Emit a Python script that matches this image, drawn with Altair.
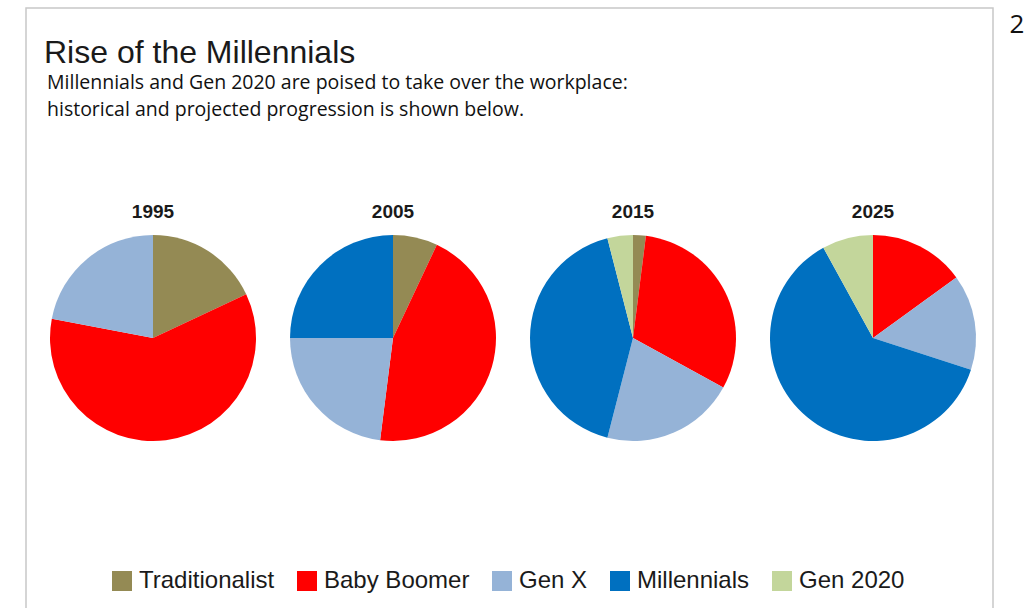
import altair as alt
import pandas as pd

# ---- data ----
years = ["1995", "2005", "2015", "2025"]
generations = ["Traditionalist", "Baby Boomer", "Gen X", "Millennials", "Gen 2020"]
colors = ["#948A54", "#FF0000", "#95B3D7", "#0070C0", "#C3D69B"]
share_1995 = [18, 60, 22, 0, 0]
share_2005 = [7, 45, 23, 25, 0]
share_2015 = [2, 31, 21, 42, 4]
share_2025 = [0, 15, 15, 62, 8]

title_text = "Rise of the Millennials"
subtitle_lines = [
    "Millennials and Gen 2020 are poised to take over the workplace:",
    "historical and projected progression is shown below.",
]
page_number = "2"

# ---- build table ----
rows = []
for yr, shares in zip(years, [share_1995, share_2005, share_2015, share_2025]):
    for i, (g, s) in enumerate(zip(generations, shares)):
        rows.append({"year": yr, "generation": g, "order": i, "share": s})
df = pd.DataFrame(rows)

x_scale = alt.Scale(type="point", domain=years, range=[153, 873], padding=0)

pies = (
    alt.Chart(df)
    .transform_window(
        end="sum(share)", groupby=["year"], sort=[alt.SortField("order")], frame=[None, 0]
    )
    .transform_calculate(start="datum.end - datum.share")
    .mark_arc(outerRadius=103)
    .encode(
        x=alt.X("year:N", scale=x_scale, axis=None),
        y=alt.value(338),
        theta=alt.Theta("start:Q", scale=alt.Scale(domain=[0, 100], range=[0, 6.283185307]), stack=False),
        theta2="end:Q",
        color=alt.Color(
            "generation:N",
            scale=alt.Scale(domain=generations, range=colors),
            legend=alt.Legend(
                title=None,
                orient="none",
                legendX=110,
                legendY=569,
                direction="horizontal",
                symbolType="square",
                symbolSize=400,
                symbolStrokeWidth=0,
                labelFont="Liberation Sans",
                labelFontSize=24,
                labelColor="#1a1a1a",
                labelOffset=5,
                columnPadding=20,
                labelLimit=400,
            ),
        ),
    )
)

year_labels = (
    alt.Chart(pd.DataFrame({"year": years}))
    .mark_text(font="Liberation Sans", fontSize=19, fontWeight="bold", color="#1a1a1a", baseline="alphabetic")
    .encode(x=alt.X("year:N", scale=x_scale, axis=None), y=alt.value(218), text="year:N")
)

one = pd.DataFrame({"k": [0]})

border = alt.Chart(one).mark_rect(filled=False, stroke="#c8c8c8", strokeWidth=1.5).encode(
    x=alt.value(26), x2=alt.value(993), y=alt.value(8), y2=alt.value(660)
)

title = alt.Chart(pd.DataFrame({"t": [title_text]})).mark_text(
    font="Liberation Sans", fontSize=32, color="#1a1a1a", align="left", baseline="alphabetic"
).encode(x=alt.value(44), y=alt.value(63), text="t:N")

sub1 = alt.Chart(pd.DataFrame({"t": [subtitle_lines[0]]})).mark_text(
    font="Open Sans", fontSize=19.5, color="#111111", align="left", baseline="alphabetic"
).encode(x=alt.value(47), y=alt.value(89), text="t:N")

sub2 = alt.Chart(pd.DataFrame({"t": [subtitle_lines[1]]})).mark_text(
    font="Open Sans", fontSize=19.5, color="#111111", align="left", baseline="alphabetic"
).encode(x=alt.value(47), y=alt.value(116), text="t:N")

page = alt.Chart(pd.DataFrame({"t": [page_number]})).mark_text(
    font="Open Sans", fontSize=26, color="#111111", align="center", baseline="alphabetic"
).encode(x=alt.value(1017), y=alt.value(33), text="t:N")

chart = (
    alt.layer(border, pies, year_labels, title, sub1, sub2, page)
    .properties(width=1034, height=608, autosize=alt.AutoSizeParams(type="none"), padding=0, background="white")
    .configure_view(stroke=None)
)

chart.save("out.html", embed_options={"renderer": "svg", "actions": False})
